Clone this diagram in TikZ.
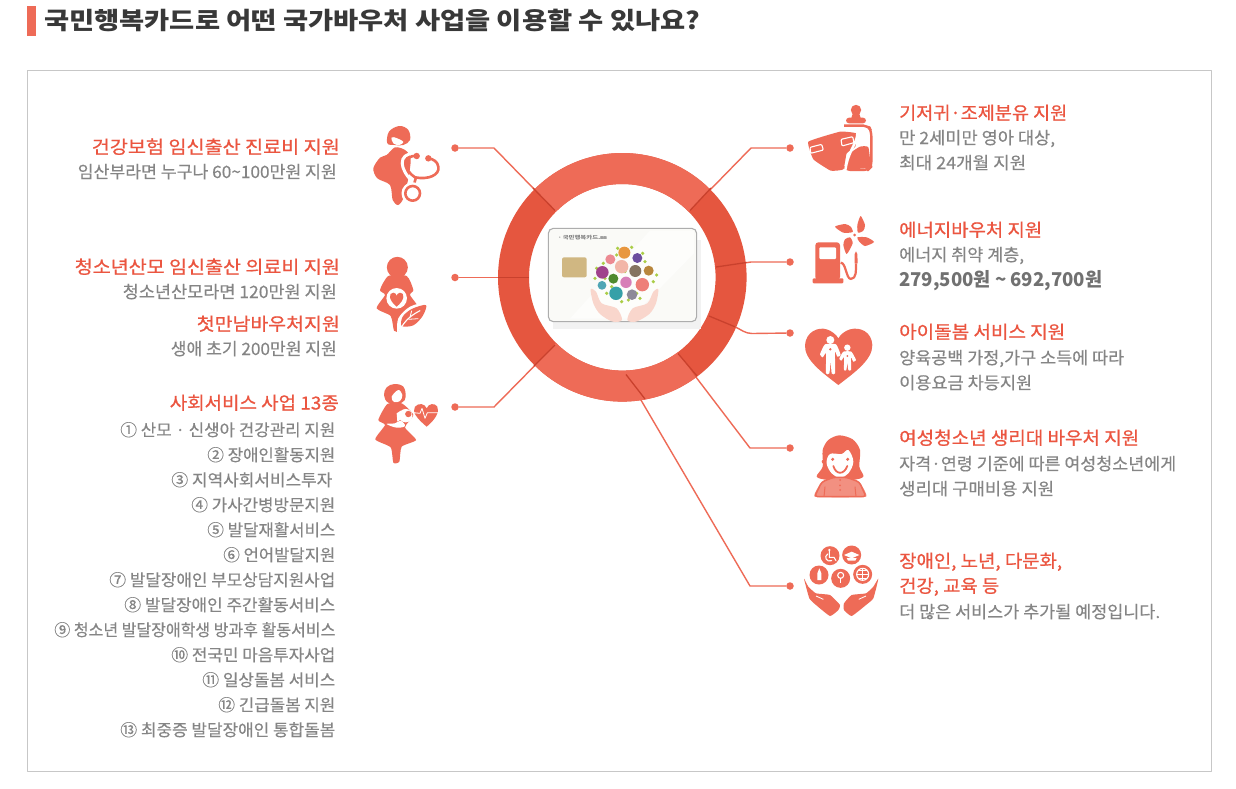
\documentclass[tikz,border=0pt]{standalone}
\usepackage{graphicx}
\usepackage{fontspec}
\setmainfont{Noto Sans CJK KR}
\newcommand\fw[2]{\resizebox{#1pt}{\height}{#2}}
\definecolor{ico}{HTML}{EE6B57}
\definecolor{ringdark}{HTML}{E5563F}
\definecolor{ringlight}{HTML}{EE6B57}
\definecolor{linein}{HTML}{C9412D}
\definecolor{redtxt}{HTML}{EB5540}
\definecolor{graytxt}{HTML}{858585}
\tikzset{
 redhead/.style={inner sep=0pt,text=redtxt,font=\fontsize{18}{18}\selectfont\addfontfeature{FakeBold=0.7}},
 graybody/.style={inner sep=0pt,text=graytxt,font=\fontsize{17}{17}\selectfont\addfontfeature{FakeBold=0.3}},
 grayitem/.style={inner sep=0pt,text=graytxt,font=\fontsize{16.5}{17}\selectfont\addfontfeature{FakeBold=0.3}},
 graybold/.style={inner sep=0pt,text=graytxt!85!black,font=\fontsize{19}{19}\selectfont\bfseries},
 dotn/.style={circle,fill=ico,inner sep=0pt,minimum size=7.5pt},
 conn/.style={draw=ico,line width=1.4pt},
 connin/.style={draw=linein,line width=1.3pt},
 icon/.style={fill=ico,draw=none},
 wht/.style={fill=white,draw=none},
 whl/.style={draw=white,line width=1.1pt,fill=none},
 rl/.style={draw=ico,line width=1.5pt,fill=none},
}
\begin{document}
\begin{tikzpicture}[x=1pt,y=-1pt,line join=round]
\useasboundingbox (0,0) rectangle (1236,788);
\fill[white] (0,0) rectangle (1236,788);
% title
\fill[ico] (27,6) rectangle (36,36);
\node[inner sep=0pt,anchor=base west,text=black!78,font=\fontsize{24}{24}\selectfont\bfseries] (title) at (44,29) {\fw{656}{국민행복카드로 어떤 국가바우처 사업을 이용할 수 있나요?}};
\draw[black!22,line width=1pt] (27.5,70.5) rectangle (1211.5,771);

% connector anchors
\coordinate (ringc) at (622.3,277.3);
\node[dotn] (d1) at (455,148) {};
\node[dotn] (d2) at (455,277.5) {};
\node[dotn] (d3) at (455,407) {};
\node[dotn] (d4) at (790,148) {};
\node[dotn] (d5) at (790,262) {};
\node[dotn] (d6) at (790,333) {};
\node[dotn] (d7) at (790,448) {};
\node[dotn] (d8) at (790,586) {};
\coordinate (k1) at (494,148); \coordinate (o1) at (533,188); \coordinate (e1) at (555,210.5);
\coordinate (o2) at (498,277.5); \coordinate (e2) at (529,277.5);
\coordinate (k3) at (494,407); \coordinate (o3) at (534,366); \coordinate (e3) at (555,345);
\coordinate (k4) at (751,148); \coordinate (o4) at (711,188); \coordinate (e4) at (690,210.5);
\coordinate (k5) at (751,262); \coordinate (o5) at (746.5,262.5); \coordinate (e5) at (716,267);
\coordinate (k6) at (752,333.5); \coordinate (o6) at (735,326.8); \coordinate (e6) at (709,316);
\coordinate (k7) at (750,448); \coordinate (o7) at (697,376); \coordinate (e7) at (678,353.5);
\coordinate (k8) at (750,586); \coordinate (o8) at (645,399); \coordinate (e8) at (626,374.5);
\draw[conn] (d1)--(k1)--(e1);
\draw[conn] (d2)--(e2);
\draw[conn] (d3)--(k3)--(e3);
\draw[conn] (d4)--(k4)--(e4);
\draw[conn] (d5)--(k5)--(e5);
\draw[conn] (d6)--(k6) .. controls (745,333.5) and (741,329.5) .. (o6)--(e6);
\draw[conn] (d7)--(k7)--(e7);
\draw[conn] (d8)--(k8)--(e8);

% ring
\draw[ringdark,line width=31pt] (ringc) circle[radius=108.8pt];
\draw[ringlight,line width=31pt] (ringc) ++(45:108.8pt) arc[start angle=45,end angle=135,radius=108.8pt];
\draw[ringlight,line width=31pt] (ringc) ++(225:108.8pt) arc[start angle=225,end angle=306.4,radius=108.8pt];
\draw[connin] (o1)--(e1);
\draw[connin] (o2)--(e2);
\draw[connin] (o3)--(e3);
\draw[connin] (o4)--(e4);
\draw[connin] (o5)--(e5);
\draw[connin] (o6)--(e6);
\draw[connin] (o7)--(e7);
\draw[connin] (o8)--(e8);

% card
\begin{scope}[shift={(490,140)},x=1pt/3,y=-1pt/3]
\fill[black!5] (190,300) rectangle (634,566);
\draw[black!32,fill={rgb,255:red,250;green,250;blue,247},line width=1.1pt,rounded corners=5pt] (175,265) rectangle (620,545);
\fill[white,opacity=.6] (480,272) -- (612,272) -- (612,340) -- (420,536) -- (240,536) -- cycle;
\fill[fill={rgb,255:red,208;green,183;blue,130},rounded corners=2pt] (216,352) rectangle (290,412);
\node[inner sep=0pt,anchor=west,text=black!50,font=\fontsize{5}{5}\selectfont\bfseries] (cardname) at (200,293) {\fw{50}{ㆍ국민행복카드.㎜}};
% hands
\fill[fill={rgb,255:red,249;green,214;blue,204}] plot[smooth cycle,tension=.5] coordinates {(302,448)(318,455)(335,490)(380,505)(396,540)(368,545)(330,522)(310,490)};
\fill[fill={rgb,255:red,249;green,214;blue,204}] plot[smooth cycle,tension=.5] coordinates {(505,448)(490,455)(472,490)(428,505)(412,540)(438,545)(478,522)(498,490)};
% green specks
\foreach \p in {(383,325),(425,322),(458,340),(340,370),(320,385),(500,405),(465,365),(315,415),(345,415),(490,425),(350,460),(395,485),(450,475),(405,395),(365,440),(440,460),(415,480),(380,345)}
  \fill[fill={rgb,255:red,170;green,205;blue,70}] \p circle[radius=1.8pt];
\fill[fill={rgb,255:red,232;green,151;blue,63}] (403,338) circle[radius=6pt];
\fill[fill={rgb,255:red,109;green,78;blue,158}] (442,354) circle[radius=5pt];
\fill[fill={rgb,255:red,236;green,138;blue,146}] (361,358) circle[radius=5pt];
\fill[fill={rgb,255:red,242;green,182;blue,168}] (395,380) circle[radius=6.7pt];
\fill[fill={rgb,255:red,160;green,66;blue,140}] (337,397) circle[radius=6.3pt];
\fill[fill={rgb,255:red,133;green,116;blue,96}] (436,393) circle[radius=6pt];
\fill[fill={rgb,255:red,184;green,134;blue,60}] (476,392) circle[radius=5pt];
\fill[fill={rgb,255:red,78;green,138;blue,46}] (370,416) circle[radius=5pt];
\fill[fill={rgb,255:red,215;green,127;blue,184}] (408,427) circle[radius=5.7pt];
\fill[fill={rgb,255:red,79;green,166;blue,181}] (336,436) circle[radius=4.4pt];
\fill[fill={rgb,255:red,238;green,127;blue,120}] (457,434) circle[radius=6.7pt];
\fill[fill={rgb,255:red,53;green,160;blue,168}] (378,460) circle[radius=6.7pt];
\fill[fill={rgb,255:red,140;green,138;blue,153}] (426,464) circle[radius=5.3pt];
\end{scope}

% icon 1: pregnant woman with stethoscope
\begin{scope}[shift={(340,90)},x=1pt/3,y=-1pt/3]
\fill[icon] plot[smooth cycle,tension=.6] coordinates {(178,108)(205,120)(210,150)(190,165)(165,165)(142,160)(147,125)};
\fill[wht] plot[smooth cycle,tension=.6] coordinates {(155,142)(172,145)(190,156)(178,165)(160,160)};
\fill[icon] plot[smooth cycle,tension=.5] coordinates {(165,172)(195,180)(212,205)(205,265)(190,325)(174,345)(158,330)(150,285)(112,265)(100,235)(120,203)(140,195)};
\draw[white,line width=3pt,line cap=round] (225,190) .. controls (170,190) and (180,240) .. (218,275);
\draw[rl,line width=2.6pt,line cap=round] (230,198) .. controls (185,195) and (190,240) .. (225,262) .. controls (265,270) and (300,255) .. (295,230) .. controls (293,215) and (280,207) .. (265,205);
\draw[rl,line width=2.6pt] (228,262)--(220,290);
\draw[white,line width=3pt] (218,310) circle[radius=29];
\draw[rl,line width=2.6pt] (218,310) circle[radius=22];
\fill[icon] (230,198) circle[radius=3.2pt] (265,205) circle[radius=3.2pt];
\end{scope}

% icon 2: pregnant woman, heart and leaf
\begin{scope}[shift={(360,240)},x=1pt/3,y=-1pt/3]
\fill[icon] (112,82) circle[radius=10.5pt];
\fill[icon] plot[smooth cycle,tension=.4] coordinates {(85,108)(140,108)(160,150)(150,165)(175,205)(128,228)(118,272)(102,272)(92,228)(50,205)(75,165)(60,150)};
\fill[wht] (110,175) circle[radius=10.3pt];
\fill[icon] (110,200) .. controls (85,180) and (85,158) .. (100,158) .. controls (106,158) and (110,164) .. (110,168) .. controls (110,164) and (114,158) .. (120,158) .. controls (135,158) and (135,180) .. (110,200) -- cycle;
\fill[white] plot[smooth cycle,tension=.5] coordinates {(112,278)(115,235)(150,200)(205,188)(195,230)(165,262)(125,262)};
\fill[icon] plot[smooth cycle,tension=.5] coordinates {(125,258)(128,230)(155,207)(198,195)(188,228)(160,256)};
\draw[whl,line cap=round] (118,272) .. controls (135,240) and (155,225) .. (180,212);
\draw[whl,line width=.8pt] (145,238) -- (175,236);
\draw[whl,line width=.8pt] (150,232) -- (155,212);
\end{scope}

% icon 3: mother, baby, heart
\begin{scope}[shift={(360,240)},x=1pt/3,y=-1pt/3]
\fill[icon] plot[smooth cycle,tension=.6] coordinates {(103,432)(130,440)(137,470)(125,488)(85,488)(72,465)(80,442)};
\fill[wht] plot[smooth cycle,tension=.6] coordinates {(95,470)(115,450)(127,465)(120,483)(102,486)};
\fill[icon] plot[smooth cycle,tension=.35] coordinates {(82,492)(125,490)(160,525)(135,562)(168,600)(125,620)(118,665)(100,668)(92,622)(46,598)(75,555)(55,540)};
\fill[wht] plot[smooth cycle,tension=.6] coordinates {(80,552)(105,550)(122,542)(135,558)(110,563)};
\fill[wht] (137,527) circle[radius=6.7pt];
\fill[wht] (110,520) -- (122,512) -- (128,535) -- (112,545) -- cycle;
\fill[icon] (145,522) circle[radius=3.2pt];
\fill[icon] (200,560) .. controls (170,535) and (155,515) .. (165,500) .. controls (175,488) and (195,490) .. (200,505) .. controls (205,490) and (225,488) .. (232,500) .. controls (240,515) and (225,540) .. (200,560) -- cycle;
\draw[whl,line width=.8pt] (160,518) -- (180,520) -- (186,505) -- (195,535) -- (202,518) -- (235,518);
\end{scope}

% icon 4: diaper and bottle
\begin{scope}[shift={(780,90)},x=1pt/3,y=-1pt/3]
\fill[icon] (228,60) circle[radius=5.2pt];
\fill[icon] (220,65) -- (236,65) -- (242,84) -- (214,84) -- cycle;
\fill[icon,rounded corners=3pt] (198,83) rectangle (258,100);
\draw[rl,line width=2.4pt,rounded corners=5pt] (192,107) -- (266,107) -- (274,125) -- (274,230) -- (264,240) -- (200,240) -- (190,230);
\fill[icon] plot[smooth cycle,tension=.3] coordinates {(200,215)(210,190)(240,170)(265,172)(268,232)(200,236)};
\fill[icon] plot[smooth cycle,tension=.2] coordinates {(85,155)(180,125)(228,130)(226,170)(200,190)(190,238)(152,242)(100,208)};
\draw[white,line width=2.5pt,line cap=round] (232,130) .. controls (232,160) and (205,180) .. (196,240);
\draw[whl,rounded corners=1pt] (90,172) -- (125,163) -- (130,180) -- (92,190) -- cycle;
\draw[whl,rounded corners=1pt] (183,148) -- (218,140) -- (222,158) -- (186,168) -- cycle;
\end{scope}

% icon 5: pump and pinwheel
\begin{scope}[shift={(780,90)},x=1pt/3,y=-1pt/3]
\fill[icon,rounded corners=3pt] (106,457) rectangle (180,570);
\fill[icon,rounded corners=1pt] (98,565) rectangle (190,580);
\fill[wht,rounded corners=1pt] (118,472) rectangle (168,507);
\draw[rl,line width=2.2pt] (182,518) .. controls (198,518) and (198,565) .. (212,567) .. controls (230,567) and (228,540) .. (228,520);
\fill[icon] (224,520) -- (233,520) -- (232,492) -- (228,484) -- (224,492) -- cycle;
\fill[icon] plot[smooth cycle,tension=.4] coordinates {(242,378)(255,405)(250,422)(234,428)(232,405)};
\fill[icon] plot[smooth cycle,tension=.4] coordinates {(282,456)(255,468)(238,455)(232,442)(260,442)};
\fill[icon] plot[smooth cycle,tension=.4] coordinates {(200,492)(190,465)(195,448)(210,442)(218,460)};
\fill[icon] plot[smooth cycle,tension=.4] coordinates {(165,410)(195,402)(212,410)(218,426)(190,428)};
\fill[wht] (224,435) circle[radius=3pt];
\fill[icon] (224,435) circle[radius=1.5pt];
\end{scope}

% icon 6: heart with figures
\begin{scope}[shift={(780,310)},x=1pt/3,y=-1pt/3]
\fill[icon] (175,225) .. controls (130,190) and (72,150) .. (75,105) .. controls (78,65) and (115,50) .. (140,58) .. controls (155,62) and (170,75) .. (175,85) .. controls (180,75) and (195,62) .. (210,58) .. controls (240,50) and (275,65) .. (277,105) .. controls (278,150) and (220,190) .. (175,225) -- cycle;
\fill[wht] (151,90) circle[radius=4pt];
\fill[wht] plot[smooth cycle,tension=.3] coordinates {(135,103)(168,103)(182,135)(172,140)(165,125)(165,190)(155,190)(152,155)(148,190)(138,190)(138,130)(128,142)(120,133)};
\fill[wht] (202,113) circle[radius=3.2pt];
\fill[wht] plot[smooth cycle,tension=.3] coordinates {(190,125)(214,125)(228,150)(220,155)(213,142)(213,180)(205,180)(202,158)(199,180)(192,180)(192,142)(184,152)(178,146)};
\fill[icon] (151,118) circle[radius=1.3pt] (202,138) circle[radius=1pt];
\end{scope}

% icon 7: girl
\begin{scope}[shift={(780,310)},x=1pt/3,y=-1pt/3]
\fill[icon] plot[smooth cycle,tension=.5] coordinates {(178,376)(218,388)(240,420)(238,470)(250,500)(215,510)(145,510)(110,500)(128,470)(128,420)(145,390)};
\fill[wht] plot[smooth cycle,tension=.6] coordinates {(150,432)(185,432)(205,420)(220,455)(205,490)(180,503)(155,490)(140,460)};
\fill[icon] (131,455) circle[radius=2pt] (228,455) circle[radius=2pt];
\draw[rl,line width=1.8pt,line cap=round] (160,468) .. controls (168,495) and (192,495) .. (202,468);
\fill[icon] (158,448) circle[radius=1.7pt] (203,448) circle[radius=1.7pt];
\fill[fill=ico!75] plot[smooth cycle,tension=.2] coordinates {(104,560)(125,516)(160,502)(200,502)(238,516)(258,560)};
\draw[ico,line width=1.5pt,rounded corners=3pt] (104,560) -- (125,516) -- (160,502) -- (200,502) -- (238,516) -- (258,560) -- cycle;
\draw[ico,line width=1pt] (132,560) -- (135,530) (228,560) -- (225,530);
\fill[icon] (180,526) circle[radius=1pt] (180,540) circle[radius=1pt] (180,510) circle[radius=1pt];
\end{scope}

% icon 8: hands and circles
\begin{scope}[shift={(780,310)},x=1pt/3,y=-1pt/3]
\fill[icon] (150,737) circle[radius=9.5pt] (215,735) circle[radius=9.5pt] (117,795) circle[radius=9.5pt] (182,805) circle[radius=9.5pt] (248,793) circle[radius=9.5pt];
\draw[whl,line cap=round] (148,722)--(148,742)--(162,742)--(168,752) (143,732) .. controls (130,740) and (140,758) .. (155,752);
\fill[wht] (148,720) circle[radius=1.2pt];
\fill[wht] (215,725) -- (238,735) -- (215,745) -- (192,735) -- cycle;
\fill[wht] (200,744) -- (230,744) -- (226,752) -- (204,752) -- cycle;
\fill[wht] (118,775) -- (124,790) -- (124,810) -- (112,810) -- (112,790) -- cycle;
\draw[whl] (182,796) circle[radius=3pt];
\draw[whl] (182,805)--(182,820);
\draw[whl] (248,793) circle[radius=6pt];
\draw[whl,line width=.6pt] (230,793)--(266,793) (248,775)--(248,811) (234,782)--(262,782) (234,804)--(262,804);
\fill[icon] plot[smooth cycle,tension=.25] coordinates {(72,806)(85,830)(108,850)(150,855)(180,885)(175,900)(150,918)(108,885)(88,865)};
\fill[icon] plot[smooth cycle,tension=.25] coordinates {(295,806)(280,830)(258,850)(215,855)(192,880)(192,900)(215,918)(258,885)(280,865)};
\draw[whl,line width=.8pt] (108,858)--(130,868) (258,858)--(236,868);
\end{scope}

\begin{scope}[yshift=-1pt]
% left text
\node[redhead,anchor=base east] (l1) at (340,152.5) {\fw{248}{건강보험 임신출산 진료비 지원}};
\node[graybody,anchor=base east] (l2) at (337,177) {\fw{259}{임산부라면 누구나 60\textasciitilde100만원 지원}};
\node[redhead,anchor=base east] (l3) at (340,272.5) {\fw{265}{청소년산모 임신출산 의료비 지원}};
\node[graybody,anchor=base east] (l4) at (337,297) {\fw{214}{청소년산모라면 120만원 지원}};
\node[redhead,anchor=base east] (l5) at (340,329.5) {\fw{143}{첫만남바우처지원}};
\node[graybody,anchor=base east] (l6) at (337,354) {\fw{166}{생애 초기 200만원 지원}};
\node[redhead,anchor=base east] (l7) at (339,408.5) {\fw{169}{사회서비스 사업 13종}};
\node[grayitem,anchor=base east] (i1) at (335.5,435) {\fw{215}{① 산모 · 신생아 건강관리 지원}};
\node[grayitem,anchor=base east] (i2) at (335.5,460) {\fw{128}{② 장애인활동지원}};
\node[grayitem,anchor=base east] (i3) at (332.5,485) {\fw{161}{③ 지역사회서비스투자}};
\node[grayitem,anchor=base east] (i4) at (335.5,510) {\fw{144}{④ 가사간병방문지원}};
\node[grayitem,anchor=base east] (i5) at (335.5,535) {\fw{128}{⑤ 발달재활서비스}};
\node[grayitem,anchor=base east] (i6) at (335.5,560) {\fw{112}{⑥ 언어발달지원}};
\node[grayitem,anchor=base east] (i7) at (335.5,585) {\fw{226}{⑦ 발달장애인 부모상담지원사업}};
\node[grayitem,anchor=base east] (i8) at (335.5,610) {\fw{211}{⑧ 발달장애인 주간활동서비스}};
\node[grayitem,anchor=base east] (i9) at (335.5,635) {\fw{281}{⑨ 청소년 발달장애학생 방과후 활동서비스}};
\node[grayitem,anchor=base east] (i10) at (335.5,660) {\fw{164}{⑩ 전국민 마음투자사업}};
\node[grayitem,anchor=base east] (i11) at (335.5,685) {\fw{133}{⑪ 일상돌봄 서비스}};
\node[grayitem,anchor=base east] (i12) at (335.5,710) {\fw{117}{⑫ 긴급돌봄 지원}};
\node[grayitem,anchor=base east] (i13) at (335.5,735) {\fw{215}{⑬ 최중증 발달장애인 통합돌봄}};

% right text
\node[redhead,anchor=base west] (r1) at (899,118.5) {\fw{168}{기저귀·조제분유 지원}};
\node[graybody,anchor=base west] (r2) at (899,143) {\fw{156}{만 2세미만 영아 대상,}};
\node[graybody,anchor=base west] (r3) at (899,168) {\fw{127}{최대 24개월 지원}};
\node[redhead,anchor=base west] (r4) at (899,235.5) {\fw{143}{에너지바우처 지원}};
\node[graybody,anchor=base west] (r5) at (899,260) {\fw{125}{에너지 취약 계층,}};
\node[graybold,anchor=base west] (r6) at (899,285) {\fw{203}{279,500원 \textasciitilde{} 692,700원}};
\node[redhead,anchor=base west] (r7) at (899,337.5) {\fw{166}{아이돌봄 서비스 지원}};
\node[graybody,anchor=base west] (r8) at (899,363) {\fw{225}{양육공백 가정,가구 소득에 따라}};
\node[graybody,anchor=base west] (r9) at (899,388) {\fw{133}{이용요금 차등지원}};
\node[redhead,anchor=base west] (r10) at (899,443.5) {\fw{240}{여성청소년 생리대 바우처 지원}};
\node[graybody,anchor=base west] (r11) at (899,469) {\fw{277}{자격·연령 기준에 따른 여성청소년에게}};
\node[graybody,anchor=base west] (r12) at (899,494) {\fw{155}{생리대 구매비용 지원}};
\node[redhead,anchor=base west] (r13) at (899,566.5) {\fw{163}{장애인, 노년, 다문화,}};
\node[redhead,anchor=base west] (r14) at (899,591.5) {\fw{100}{건강, 교육 등}};
\node[graybody,anchor=base west] (r15) at (899,617) {\fw{261}{더 많은 서비스가 추가될 예정입니다.}};
\end{scope}
\end{tikzpicture}
\end{document}
